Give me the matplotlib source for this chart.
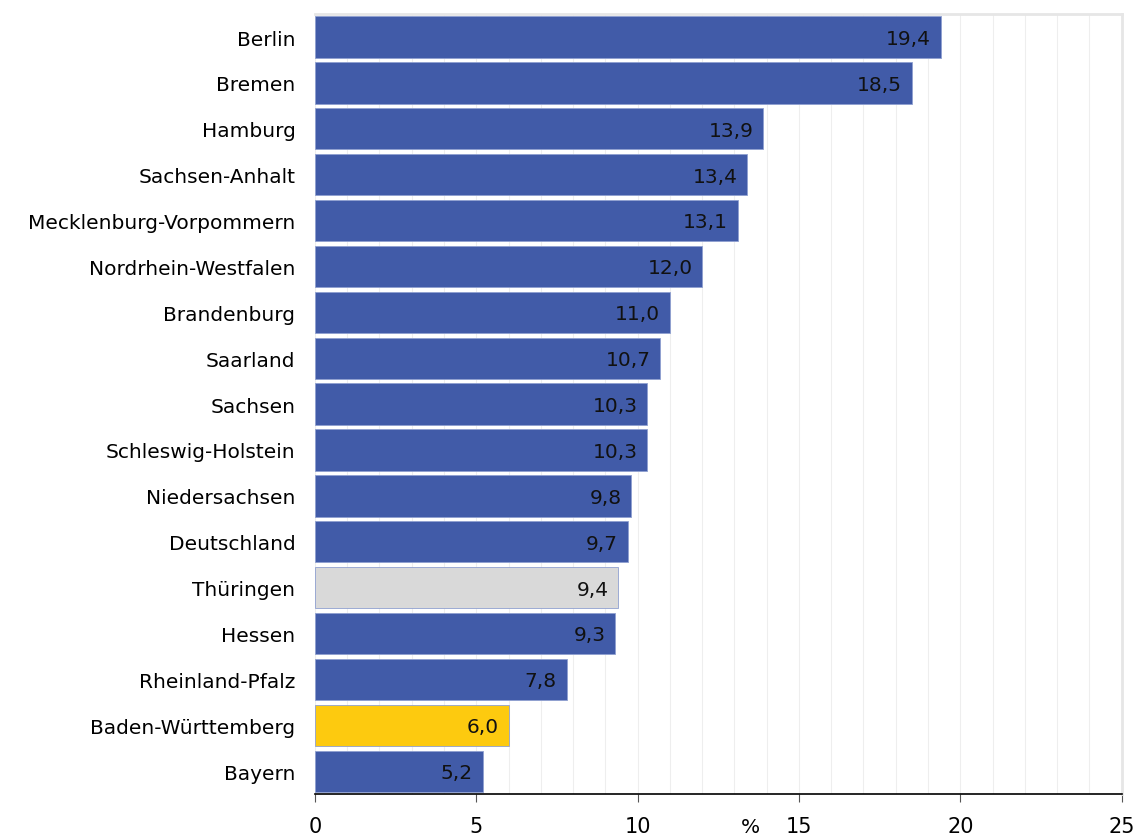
import numpy as np
import matplotlib.pyplot as plt
from matplotlib.ticker import MultipleLocator

laender = ["Berlin", "Bremen", "Hamburg", "Sachsen-Anhalt", "Mecklenburg-Vorpommern",
           "Nordrhein-Westfalen", "Brandenburg", "Saarland", "Sachsen", "Schleswig-Holstein",
           "Niedersachsen", "Deutschland", "Thüringen", "Hessen", "Rheinland-Pfalz",
           "Baden-Württemberg", "Bayern"]
werte = [19.4, 18.5, 13.9, 13.4, 13.1, 12.0, 11.0, 10.7, 10.3, 10.3,
         9.8, 9.7, 9.4, 9.3, 7.8, 6.0, 5.2]

blau = "#415BA8"
farben = {"Thüringen": "#D9D9D9", "Baden-Württemberg": "#FDCA0F"}
colors = [farben.get(l, blau) for l in laender]

fs = 14.5
plt.rcParams['font.family'] = ['DejaVu Sans']
fig = plt.figure(figsize=(11.41, 8.37), dpi=100)
ax = fig.add_axes([0.276, 0.05, 0.707, 0.932])

y = np.arange(len(laender))
ax.barh(y, werte, height=0.9, color=colors, edgecolor="#8FA0D0", linewidth=0.6, zorder=3)
ax.set_ylim(len(laender) - 0.5, -0.5)
ax.set_xlim(0, 25)

for yi, v in zip(y, werte):
    ax.text(v - 0.3, yi + 0.03, f"{v:.1f}".replace(".", ","), ha="right", va="center",
            fontsize=fs, color="#111111", zorder=4)

ax.set_yticks(y)
ax.set_yticklabels(laender, fontsize=fs)
ax.tick_params(axis="y", length=0, pad=14)

ax.xaxis.set_major_locator(MultipleLocator(5))
ax.xaxis.set_minor_locator(MultipleLocator(1))
ax.tick_params(axis="x", which="major", length=6, width=0.8, color="#555555",
               labelsize=fs + 0.5, pad=10)
ax.tick_params(axis="x", which="minor", length=0)
ax.grid(axis="x", which="both", color="#EEEEEE", linewidth=0.8, zorder=0)

for s in ["top", "right"]:
    ax.spines[s].set_color("#E6E6E6")
    ax.spines[s].set_linewidth(2)
ax.spines["left"].set_visible(False)
ax.spines["bottom"].set_color("black")
ax.spines["bottom"].set_linewidth(1.2)

fig.text(750 / 1141, 0.0, "%", ha="center", va="bottom", fontsize=fs)

fig.savefig("out.png", dpi=100)
